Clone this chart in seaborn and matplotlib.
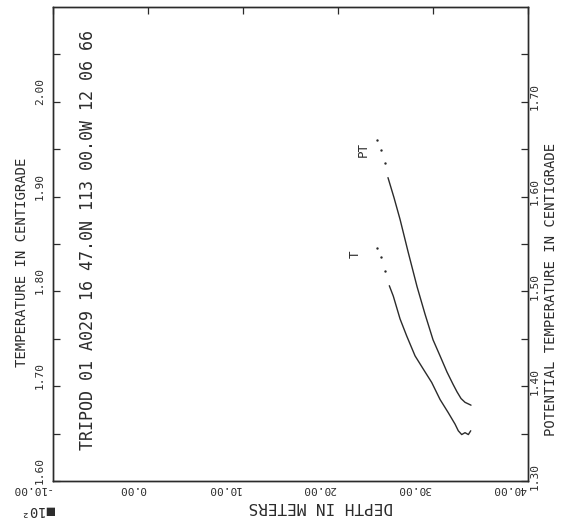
import numpy as np
import pandas as pd
import seaborn as sns
import matplotlib.pyplot as plt
from matplotlib.transforms import ScaledTranslation

# Perfil TRIPOD 01 A029 -- profundidad en unidades de 10^2 m
depth_t = [25.40, 25.82, 26.53, 27.23, 28.11, 28.98, 29.86, 30.74, 31.61,
           32.32, 32.66, 33.02, 33.37, 33.72, 33.97]
temp_t = [1.806, 1.795, 1.771, 1.753, 1.732, 1.718, 1.704, 1.686, 1.672,
          1.660, 1.653, 1.649, 1.651, 1.649, 1.653]
depth_t_pts = [24.11, 24.53, 24.95]
temp_t_pts = [1.846, 1.836, 1.821]

depth_pt = [25.26, 25.89, 26.53, 27.37, 28.32, 29.16, 30.00, 30.74, 31.47,
            32.11, 32.53, 32.95, 33.37, 34.00]
ptemp = [1.620, 1.599, 1.576, 1.542, 1.505, 1.476, 1.449, 1.432, 1.415,
         1.402, 1.394, 1.387, 1.383, 1.380]
depth_pt_pts = [24.11, 24.53, 24.95]
ptemp_pts = [1.660, 1.649, 1.635]

depth_ticks = [-10, 0, 10, 20, 30, 40]
temp_ticks = [1.60, 1.70, 1.80, 1.90, 2.00]
ptemp_ticks = [1.30, 1.40, 1.50, 1.60, 1.70]

df_t = pd.DataFrame({"Profundidad": depth_t, "Temperatura": temp_t})
df_pt = pd.DataFrame({"Profundidad": depth_pt, "Temperatura": ptemp})

ink = "#2b2b2b"
sns.set_style("white")
plt.rcParams['font.family'] = ['DejaVu Sans Mono', 'DejaVu Sans']
plt.rcParams['text.color'] = ink

fig = plt.figure(figsize=(5.61, 5.29), dpi=100)
ax = fig.add_axes([0.0945, 0.0907, 0.8467, 0.8961])
ax2 = ax.twinx()

# Curvas T y PT
sns.lineplot(data=df_t, x="Profundidad", y="Temperatura", ax=ax,
             color=ink, lw=1.0, sort=False, estimator=None)
sns.scatterplot(x=depth_t_pts, y=temp_t_pts, ax=ax, color=ink, s=3,
                linewidth=0)
sns.lineplot(data=df_pt, x="Profundidad", y="Temperatura", ax=ax2,
             color=ink, lw=1.0, sort=False, estimator=None)
sns.scatterplot(x=depth_pt_pts, y=ptemp_pts, ax=ax2, color=ink, s=3,
                linewidth=0)

ax.text(depth_t_pts[0] - 2.3, temp_t_pts[0] - 0.007, "T", rotation=90,
        fontsize=9, ha="center", va="center")
ax2.text(depth_pt_pts[0] - 1.5, ptemp_pts[0] - 0.01, "PT", rotation=90,
         fontsize=9, ha="center", va="center")

# Ejes
ax.set_xlim(-10, 40)
ax.set_ylim(1.60, 2.10)
ax2.set_ylim(1.30, 1.80)

ax.set_xticks(depth_ticks)
ax.set_xticklabels([f"{v:.2f}" for v in depth_ticks], rotation=180)
ax.set_yticks(temp_ticks)
ax.set_yticks(np.arange(1.65, 2.10, 0.1), minor=True)
ax.set_yticklabels([f"{v:.2f}" for v in temp_ticks], rotation=90)
ax2.set_yticks(ptemp_ticks)
ax2.set_yticks(np.arange(1.35, 1.80, 0.1), minor=True)
ax2.set_yticklabels([f"{v:.2f}" for v in ptemp_ticks], rotation=90)

for a in (ax, ax2):
    a.set_xlabel("")
    a.set_ylabel("")
    a.tick_params(which="both", direction="in", length=5, width=0.9,
                  color=ink, labelsize=8, labelcolor=ink)
    for s in a.spines.values():
        s.set_color(ink)
        s.set_linewidth(1.0)
ax.tick_params(axis="x", top=True, pad=2)
ax.tick_params(axis="y", left=True, right=False, pad=6)
ax2.tick_params(axis="y", left=False, right=True, pad=1)

for lab in ax.get_xticklabels():
    lab.set_ha("right")
    lab.set_transform(lab.get_transform() + ScaledTranslation(-0.02, 0, fig.dpi_scale_trans))
for lab in ax.get_yticklabels():
    lab.set_va("bottom")
    lab.set_transform(lab.get_transform() + ScaledTranslation(0, -0.03, fig.dpi_scale_trans))
for lab in ax2.get_yticklabels():
    lab.set_va("center")
    lab.set_transform(lab.get_transform() + ScaledTranslation(0, 0.05, fig.dpi_scale_trans))

# Textos
fig.text(0.039, 0.505, "TEMPERATURE IN CENTIGRADE", rotation=90,
         fontsize=10, ha="center", va="center")
fig.text(0.982, 0.452, "POTENTIAL TEMPERATURE IN CENTIGRADE", rotation=90,
         fontsize=10, ha="center", va="center")
fig.text(0.157, 0.546, "TRIPOD 01 A029 16 47.0N 113 00.0W 12 06 66",
         rotation=90, fontsize=12, ha="center", va="center")
fig.text(0.572, 0.042, "DEPTH IN METERS", rotation=180,
         fontsize=11.5, ha="center", va="center")
fig.text(0.068, 0.036, "\u25a010\u00b2", rotation=180,
         fontsize=10, ha="center", va="center")

plt.savefig("out.png", dpi=100)
